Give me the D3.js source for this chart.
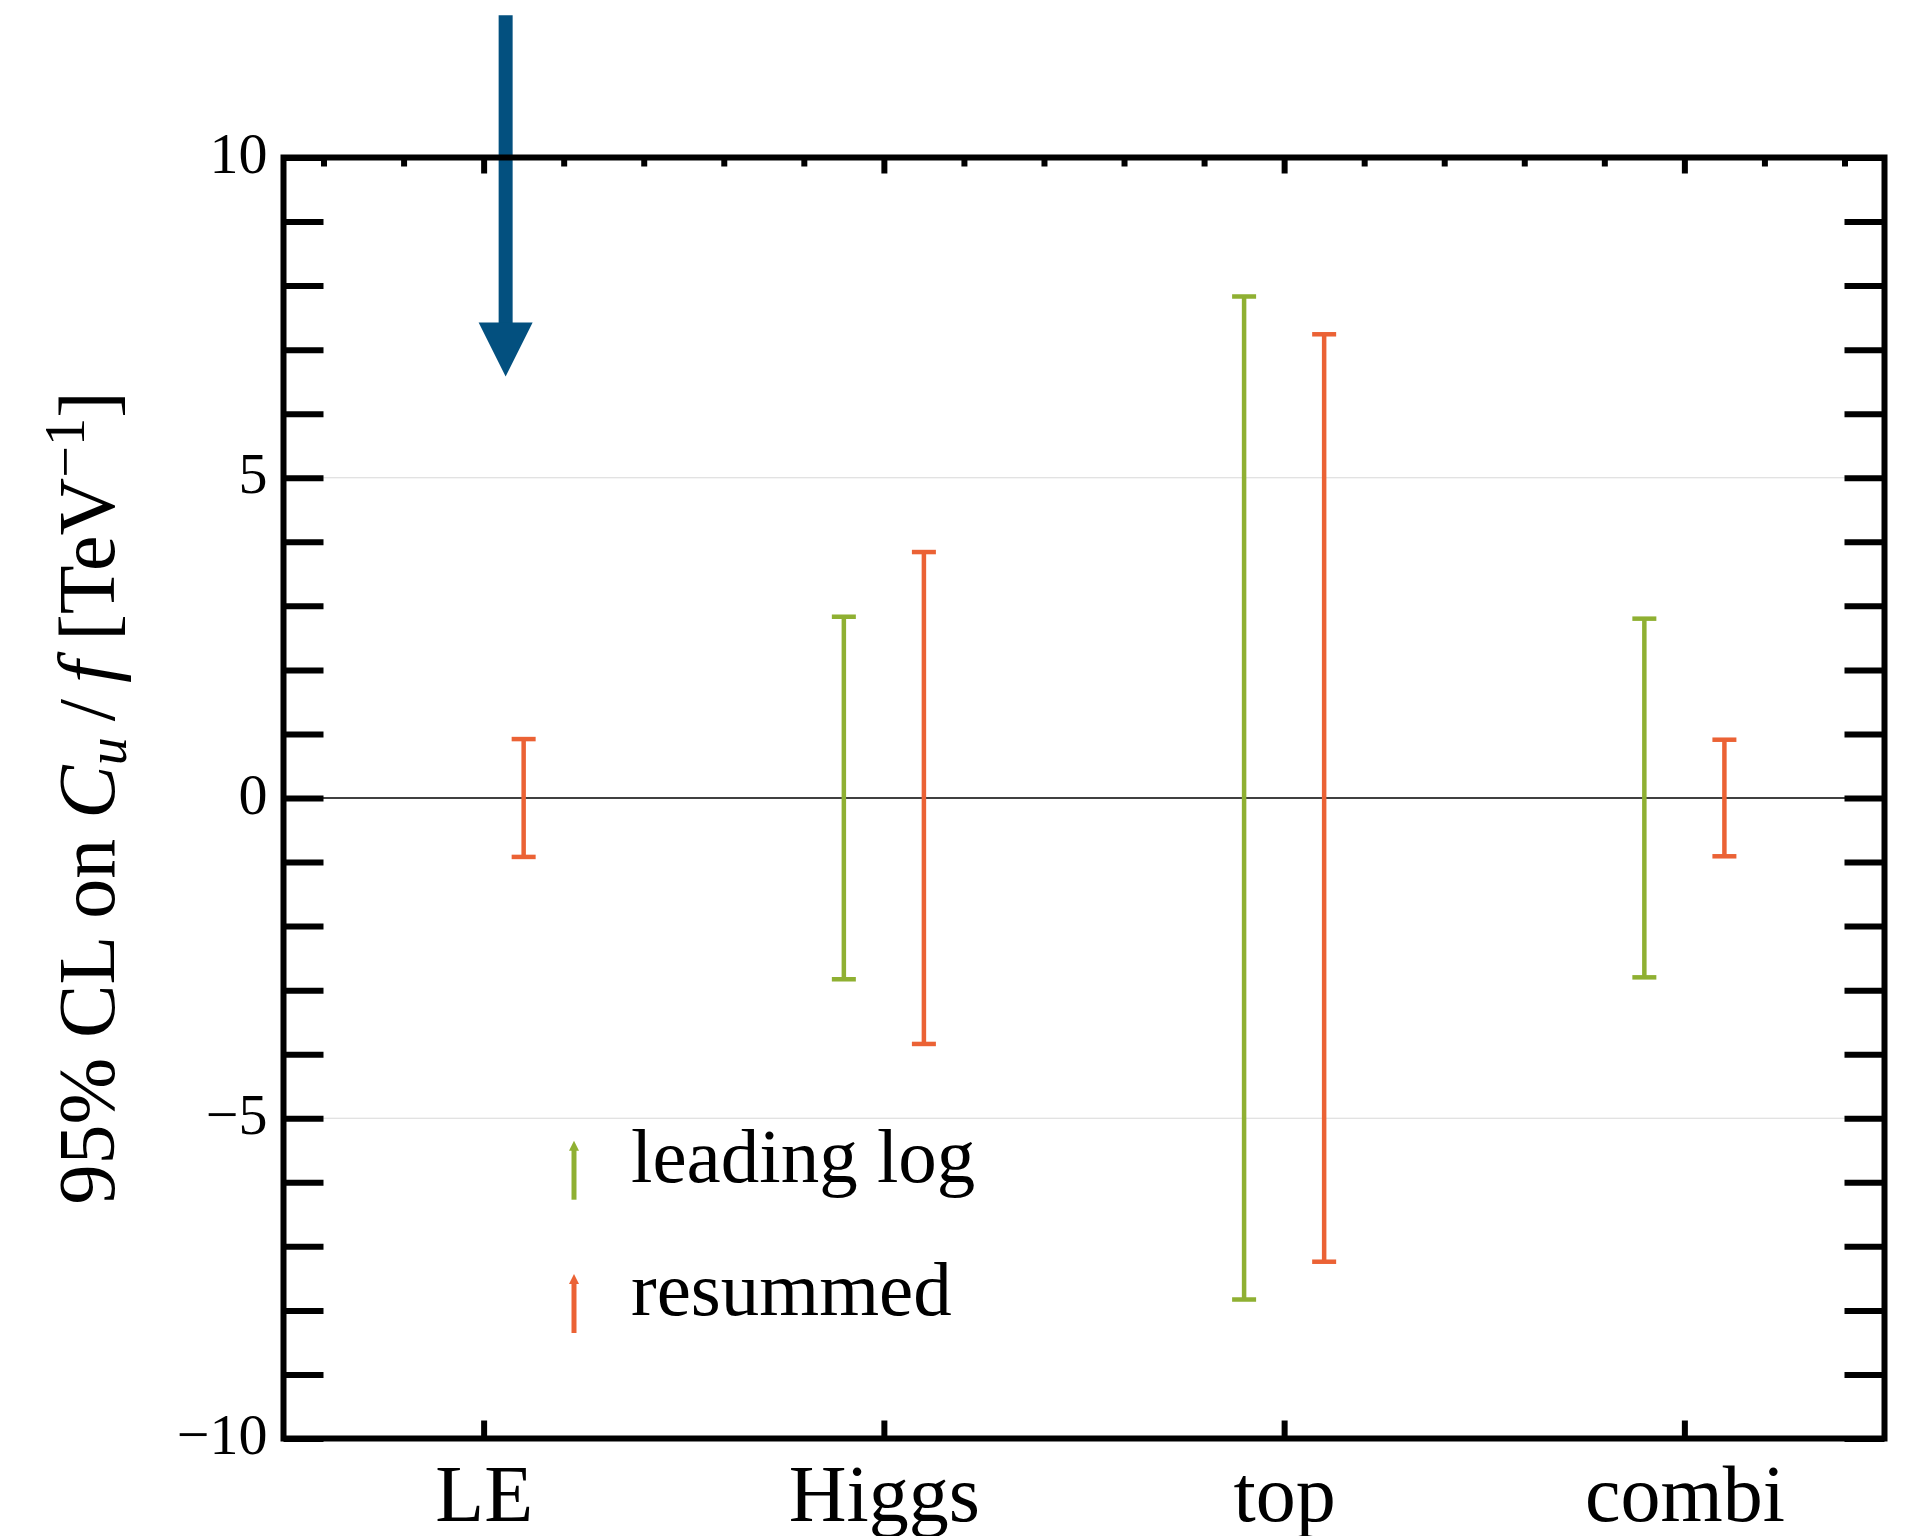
<!DOCTYPE html>
<html>
<head>
<meta charset="utf-8">
<script src="https://cdn.jsdelivr.net/npm/d3@7"></script>
<style>
  html, body { margin: 0; padding: 0; background: #ffffff; }
  svg { display: block; }
  text { font-family: "Liberation Serif", "DejaVu Serif", serif; fill: #000; }
</style>
</head>
<body>
<svg id="chart" width="1911" height="1536"></svg>
<script>
// ---------------- data ----------------
const categories = ["LE", "Higgs", "top", "combi"];
const leadingLogHalfWidth = [null, 2.83, 7.83, 2.80];   // symmetric 95% CL intervals
const resummedHalfWidth   = [0.92, 3.84, 7.24, 0.91];
const leBoundArrow = { category: 0.055, from: 12.22, to: 6.58 }; // LE leading-log bound (off scale)
const yTickValues = d3.range(-10, 11, 1);
const yLabelValues = [-10, -5, 0, 5, 10];
const gridValues = [-5, 5];
const seriesNames = ["leading log", "resummed"];
const seriesColors = ["#8fb032", "#eb6235"];
const arrowColor = "#03507f";

// ---------------- layout ----------------
const svg = d3.select("#chart");
const x = d3.scaleLinear().domain([-0.5, 3.5]).range([283.5, 1884.5]);
const y = d3.scaleLinear().domain([-10, 10]).range([1438.5, 157.5]);
const offset = 0.1; // series offset in category units

// gridlines
svg.append("g").selectAll("line").data(gridValues).join("line")
  .attr("x1", x(-0.5)).attr("x2", x(3.5))
  .attr("y1", d => y(d)).attr("y2", d => y(d))
  .attr("stroke", "#d8d8d8").attr("stroke-width", 1.2);
// zero line
svg.append("line")
  .attr("x1", x(-0.5)).attr("x2", x(3.5))
  .attr("y1", y(0)).attr("y2", y(0))
  .attr("stroke", "#000").attr("stroke-width", 1.5);

// error bars
function drawBars(vals, color, dx) {
  const data = vals.map((v, i) => ({ i, v })).filter(d => d.v !== null);
  const g = svg.append("g").attr("stroke", color).attr("stroke-width", 4.5).attr("fill", "none");
  g.selectAll("line.v").data(data).join("line").attr("class", "v")
    .attr("x1", d => x(d.i + dx)).attr("x2", d => x(d.i + dx))
    .attr("y1", d => y(-d.v)).attr("y2", d => y(d.v));
  const caps = data.flatMap(d => [{ i: d.i, v: d.v }, { i: d.i, v: -d.v }]);
  g.selectAll("line.c").data(caps).join("line").attr("class", "c")
    .attr("x1", d => x(d.i + dx) - 12).attr("x2", d => x(d.i + dx) + 12)
    .attr("y1", d => y(d.v)).attr("y2", d => y(d.v));
}
drawBars(leadingLogHalfWidth, seriesColors[0], -offset);
drawBars(resummedHalfWidth, seriesColors[1], offset);

// LE bound arrow
{
  const ax = x(leBoundArrow.category);
  const tipY = y(leBoundArrow.to);
  const headLen = 54, headW = 27;
  svg.append("line")
    .attr("x1", ax).attr("x2", ax)
    .attr("y1", y(leBoundArrow.from)).attr("y2", tipY - headLen + 2)
    .attr("stroke", arrowColor).attr("stroke-width", 14);
  svg.append("path")
    .attr("d", `M${ax - headW},${tipY - headLen} L${ax + headW},${tipY - headLen} L${ax},${tipY} Z`)
    .attr("fill", arrowColor);
}

// axes
const tickStroke = 6;
function styleAxis(g) {
  g.select(".domain").remove();
  g.selectAll(".tick line").attr("stroke", "#000").attr("stroke-width", tickStroke);
}
// left
const left = svg.append("g").attr("transform", `translate(${x(-0.5)},0)`)
  .call(d3.axisLeft(y).tickValues(yTickValues).tickSize(-40)
    .tickFormat(d => yLabelValues.includes(d) ? (d < 0 ? "\u2212" + Math.abs(d) : String(d)) : ""));
styleAxis(left);
left.selectAll(".tick text")
  .attr("x", -16).attr("dy", null).attr("y", 15)
  .attr("font-size", 58).attr("text-anchor", "end")
  .style("font-family", "'Liberation Serif', serif");
// right
const right = svg.append("g").attr("transform", `translate(${x(3.5)},0)`)
  .call(d3.axisRight(y).tickValues(yTickValues).tickSize(-40).tickFormat(""));
styleAxis(right);
// top minor
const topMinor = svg.append("g").attr("transform", `translate(0,${y(10)})`)
  .call(d3.axisTop(x).tickValues(d3.range(-0.4, 3.41, 0.2).filter(v => Math.abs(v - Math.round(v)) > 1e-6))
    .tickSize(-9).tickFormat(""));
styleAxis(topMinor);
// top major
const topMajor = svg.append("g").attr("transform", `translate(0,${y(10)})`)
  .call(d3.axisTop(x).tickValues(d3.range(0, 4)).tickSize(-16).tickFormat(""));
styleAxis(topMajor);
// bottom
const bottom = svg.append("g").attr("transform", `translate(0,${y(-10)})`)
  .call(d3.axisBottom(x).tickValues(d3.range(0, 4)).tickSize(-18).tickFormat(i => categories[i]));
styleAxis(bottom);
bottom.selectAll(".tick text")
  .attr("y", 82).attr("dy", null)
  .attr("font-size", 80)
  .style("font-family", "'Liberation Serif', serif");

// frame
svg.append("rect")
  .attr("x", x(-0.5)).attr("y", y(10))
  .attr("width", x(3.5) - x(-0.5)).attr("height", y(-10) - y(10))
  .attr("fill", "none").attr("stroke", "#000").attr("stroke-width", 6);

// y axis title
const title = svg.append("text")
  .attr("transform", `translate(114,${y(0)}) rotate(-90)`)
  .attr("text-anchor", "middle")
  .attr("font-size", 80);
title.append("tspan").text("95% CL on ");
title.append("tspan").attr("font-style", "italic").text("C");
title.append("tspan").attr("font-style", "italic").attr("font-size", 56).attr("dy", 12).text("u");
title.append("tspan").attr("dy", -12).text("\u2009/\u2009");
title.append("tspan").attr("font-style", "italic").text("f");
title.append("tspan").text(" [TeV");
title.append("tspan").attr("font-size", 56).attr("dy", -30).text("\u22121");
title.append("tspan").attr("dy", 30).text("]");

// legend
const legendX = 574, legendTextX = 631;
const legendRows = [1181.7, 1315];
seriesNames.forEach((name, i) => {
  const base = legendRows[i];
  const top = base - 41, bot = base + 18;
  svg.append("line")
    .attr("x1", legendX).attr("x2", legendX)
    .attr("y1", bot).attr("y2", top + 8)
    .attr("stroke", seriesColors[i]).attr("stroke-width", 5);
  svg.append("path")
    .attr("d", `M${legendX - 5},${top + 10} L${legendX + 5},${top + 10} L${legendX},${top} Z`)
    .attr("fill", seriesColors[i]);
  svg.append("text")
    .attr("x", legendTextX).attr("y", base)
    .attr("font-size", 77)
    .text(name);
});
</script>
</body>
</html>
